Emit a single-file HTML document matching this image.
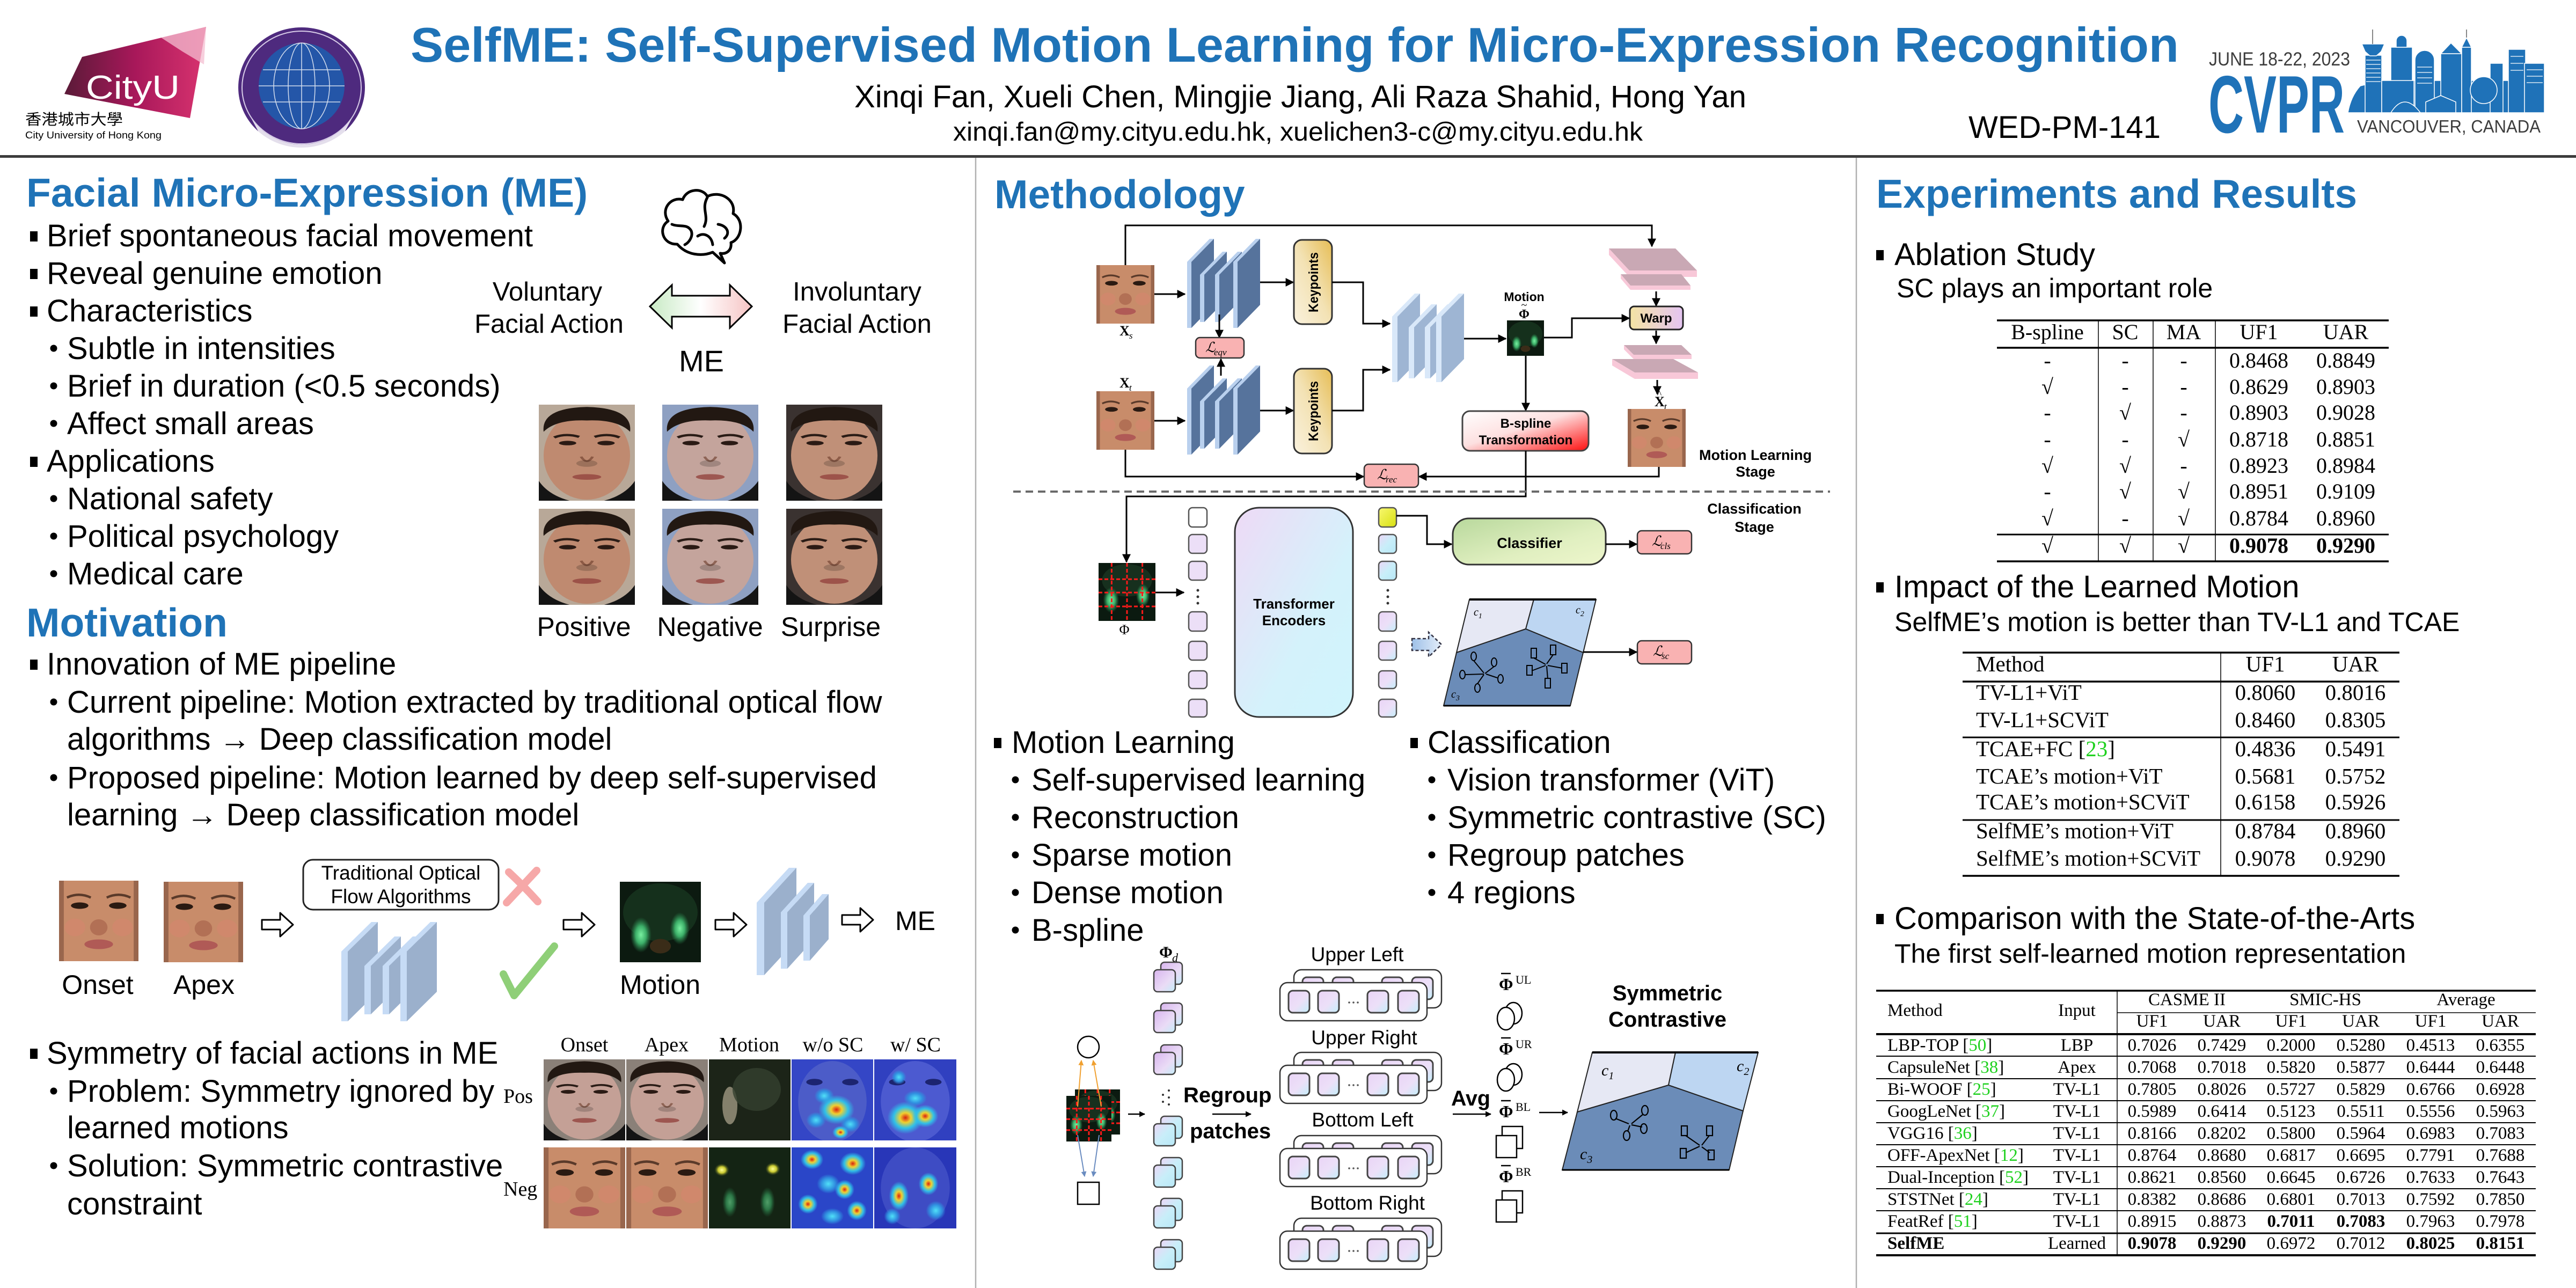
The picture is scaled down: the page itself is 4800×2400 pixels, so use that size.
<!DOCTYPE html>
<html><head><meta charset="utf-8">
<style>
html,body{margin:0;padding:0;background:#fff;}
svg{display:block}
</style></head><body>
<svg xmlns="http://www.w3.org/2000/svg" xmlns:xlink="http://www.w3.org/1999/xlink" width="4800" height="2400" viewBox="0 0 4800 2400">
<defs>
<style>
text{font-family:"Liberation Sans",Arial,sans-serif;fill:#000}
.h{font-size:75px;font-weight:bold;fill:#1f73b7}
.b{font-size:58px}
.s{font-size:50px}
.sf{font-family:"Liberation Serif","Times New Roman",serif}
.bd{font-weight:bold}
.it{font-style:italic}
.ln{stroke:#000;stroke-width:3;fill:none}
.ar{marker-end:url(#ah)}
.gr{fill:#1fd11f}
.bx{fill:#fff;stroke:#333;stroke-width:2.5}
</style>
<marker id="ah" viewBox="0 0 10 10" refX="9" refY="5" markerWidth="16" markerHeight="16" markerUnits="userSpaceOnUse" orient="auto"><path d="M0,0L10,5L0,10z" fill="#000"/></marker>
<marker id="ahs" viewBox="0 0 10 10" refX="9" refY="5" markerWidth="11" markerHeight="11" markerUnits="userSpaceOnUse" orient="auto"><path d="M0,0L10,5L0,10z" fill="#000"/></marker>
<marker id="aho" viewBox="0 0 10 10" refX="9" refY="5" markerWidth="10" markerHeight="10" markerUnits="userSpaceOnUse" orient="auto"><path d="M0,0L10,5L0,10z" fill="#f0a030"/></marker>
<marker id="ahb" viewBox="0 0 10 10" refX="9" refY="5" markerWidth="10" markerHeight="10" markerUnits="userSpaceOnUse" orient="auto"><path d="M0,0L10,5L0,10z" fill="#6a8cc0"/></marker>
<linearGradient id="cu" x1="0" y1="0" x2="1" y2="0"><stop offset="0" stop-color="#5a1a38"/><stop offset=".5" stop-color="#a8185a"/><stop offset="1" stop-color="#d8336f"/></linearGradient>
<linearGradient id="mearr" x1="0" y1="0" x2="1" y2="0"><stop offset="0" stop-color="#c8eac4"/><stop offset=".5" stop-color="#ffffff"/><stop offset="1" stop-color="#f6c4c4"/></linearGradient>
<linearGradient id="kp" x1="0" y1="1" x2="1" y2="0"><stop offset="0" stop-color="#faf2de"/><stop offset=".5" stop-color="#f3e2b4"/><stop offset="1" stop-color="#e6bd55"/></linearGradient>
<linearGradient id="bs" x1="0" y1="0" x2="1" y2="1"><stop offset="0" stop-color="#ffffff"/><stop offset=".45" stop-color="#fde0e0"/><stop offset="1" stop-color="#ff1010"/></linearGradient>
<linearGradient id="wp" x1="0" y1="0" x2="1" y2="0"><stop offset="0" stop-color="#f4e4a4"/><stop offset="1" stop-color="#e4c4f2"/></linearGradient>
<linearGradient id="tf" x1="0" y1="0" x2="1" y2="1"><stop offset="0" stop-color="#eedaf6"/><stop offset=".6" stop-color="#d4f2fb"/><stop offset="1" stop-color="#d0f4fc"/></linearGradient>
<linearGradient id="tk" x1="0" y1="0" x2="1" y2="1"><stop offset="0" stop-color="#ead4f6"/><stop offset=".55" stop-color="#ece0f8"/><stop offset="1" stop-color="#c4eefa"/></linearGradient>
<linearGradient id="tkp" x1="0" y1="0" x2="1" y2="1"><stop offset="0" stop-color="#d8b4ee"/><stop offset=".6" stop-color="#eadcf6"/><stop offset="1" stop-color="#c4ecf8"/></linearGradient>
<linearGradient id="tkc" x1="0" y1="0" x2="1" y2="1"><stop offset="0" stop-color="#ecd6f6"/><stop offset=".5" stop-color="#c8eef9"/><stop offset="1" stop-color="#b8e8f6"/></linearGradient>
<linearGradient id="yl" x1="0" y1="0" x2="1" y2="1"><stop offset="0" stop-color="#f8f870"/><stop offset="1" stop-color="#d8e010"/></linearGradient>
<linearGradient id="cl" x1="0" y1="0" x2="1" y2="1"><stop offset="0" stop-color="#b8d89c"/><stop offset=".6" stop-color="#e0efc0"/><stop offset="1" stop-color="#eef6cc"/></linearGradient>
<linearGradient id="da" x1="0" y1="0" x2="1" y2="0"><stop offset="0" stop-color="#9ec0e8"/><stop offset="1" stop-color="#e4eef9"/></linearGradient>
<radialGradient id="gg1"><stop offset="0" stop-color="#78f0a0"/><stop offset=".5" stop-color="#3cae68"/><stop offset="1" stop-color="#2a8a50" stop-opacity="0"/></radialGradient>
<radialGradient id="gy"><stop offset="0" stop-color="#ffff90"/><stop offset=".5" stop-color="#c8c830"/><stop offset="1" stop-color="#405020" stop-opacity="0"/></radialGradient>
<radialGradient id="hr"><stop offset="0" stop-color="#d82010"/><stop offset=".3" stop-color="#f0d030"/><stop offset=".65" stop-color="#30c0e8"/><stop offset="1" stop-color="#30c0e8" stop-opacity="0"/></radialGradient>
<radialGradient id="hc"><stop offset="0" stop-color="#50e0f8"/><stop offset=".6" stop-color="#3090e0"/><stop offset="1" stop-color="#3090e0" stop-opacity="0"/></radialGradient>

<symbol id="fp" viewBox="0 0 100 170" preserveAspectRatio="none">
<ellipse cx="50" cy="90" rx="45" ry="78" fill="currentColor"/>
<path d="M5,48 Q2,6 50,4 Q98,6 95,48 Q82,26 50,28 Q18,26 5,48z" fill="#221812"/>
<path d="M16,58 Q28,50 42,57" stroke="#2a1c16" stroke-width="4" fill="none"/>
<path d="M58,57 Q72,50 84,58" stroke="#2a1c16" stroke-width="4" fill="none"/>
<ellipse cx="30" cy="68" rx="9" ry="4" fill="#2a1a14"/>
<ellipse cx="70" cy="68" rx="9" ry="4" fill="#2a1a14"/>
<path d="M44,92 Q50,108 56,92" stroke="#6a3a28" stroke-width="3" fill="none" opacity=".6"/>
<ellipse cx="50" cy="104" rx="11" ry="6" fill="#000" opacity=".18"/>
<ellipse cx="50" cy="128" rx="15" ry="5" fill="#94443e" opacity=".8"/>
<path d="M0,135 Q10,160 32,170 H0z" fill="#141414"/>
<path d="M100,135 Q90,160 68,170 H100z" fill="#141414"/>
</symbol>
<symbol id="fc" viewBox="0 0 100 100" preserveAspectRatio="none">
<rect width="100" height="100" fill="#c88c6a"/>
<rect x="0" y="0" width="6" height="100" fill="#6a4030" opacity=".5"/>
<rect x="94" y="0" width="6" height="100" fill="#6a4030" opacity=".5"/>
<path d="M10,21 Q25,14 40,21" stroke="#5a3a2a" stroke-width="3" fill="none"/>
<path d="M60,21 Q75,14 90,21" stroke="#5a3a2a" stroke-width="3" fill="none"/>
<ellipse cx="26" cy="31" rx="11" ry="4" fill="#2a1a12"/>
<ellipse cx="74" cy="31" rx="11" ry="4" fill="#2a1a12"/>
<ellipse cx="50" cy="58" rx="11" ry="10" fill="#a05a44" opacity=".55"/>
<ellipse cx="20" cy="58" rx="13" ry="11" fill="#e08070" opacity=".35"/>
<ellipse cx="80" cy="58" rx="13" ry="11" fill="#e08070" opacity=".35"/>
<ellipse cx="50" cy="79" rx="18" ry="6" fill="#b05a56"/>
</symbol>
<symbol id="mo" viewBox="0 0 100 100" preserveAspectRatio="none">
<rect width="100" height="100" fill="#0c1a10"/>
<ellipse cx="50" cy="38" rx="46" ry="36" fill="#15301c"/>
<ellipse cx="26" cy="66" rx="13" ry="22" fill="url(#gg1)"/>
<ellipse cx="74" cy="58" rx="12" ry="20" fill="url(#gg1)"/>
<ellipse cx="50" cy="80" rx="13" ry="9" fill="#3a2c18"/>
</symbol>
<symbol id="phi" viewBox="0 0 100 100" preserveAspectRatio="none">
<rect width="100" height="100" fill="#0b1a10"/>
<ellipse cx="50" cy="30" rx="44" ry="28" fill="#17301e"/>
<ellipse cx="22" cy="64" rx="14" ry="22" fill="url(#gg1)"/>
<ellipse cx="78" cy="56" rx="12" ry="20" fill="url(#gg1)"/>
<g stroke="#ff1a1a" stroke-width="3" stroke-dasharray="7 4" vector-effect="non-scaling-stroke">
<line x1="23" y1="0" x2="23" y2="100" vector-effect="non-scaling-stroke"/>
<line x1="50" y1="0" x2="50" y2="100" vector-effect="non-scaling-stroke"/>
<line x1="77" y1="0" x2="77" y2="100" vector-effect="non-scaling-stroke"/>
<line x1="0" y1="28" x2="100" y2="28" vector-effect="non-scaling-stroke"/>
<line x1="0" y1="51" x2="100" y2="51" vector-effect="non-scaling-stroke"/>
<line x1="0" y1="75" x2="100" y2="75" vector-effect="non-scaling-stroke"/>
</g>
</symbol>
<symbol id="h1" viewBox="0 0 100 100" preserveAspectRatio="none">
<rect width="100" height="100" fill="#3446c6"/>
<ellipse cx="50" cy="52" rx="42" ry="50" fill="#4c5cc8"/>
<ellipse cx="28" cy="28" rx="10" ry="4" fill="#1c2470"/>
<ellipse cx="72" cy="28" rx="10" ry="4" fill="#1c2470"/>
<ellipse cx="40" cy="45" rx="12" ry="10" fill="url(#hc)"/>
<ellipse cx="55" cy="62" rx="22" ry="18" fill="url(#hr)"/>
<ellipse cx="30" cy="75" rx="12" ry="10" fill="url(#hc)"/>
<ellipse cx="72" cy="80" rx="12" ry="10" fill="url(#hc)"/>
<ellipse cx="60" cy="90" rx="10" ry="8" fill="url(#hr)"/>
</symbol>
<symbol id="h2" viewBox="0 0 100 100" preserveAspectRatio="none">
<rect width="100" height="100" fill="#3040c0"/>
<ellipse cx="50" cy="52" rx="42" ry="50" fill="#4c5ad0"/>
<ellipse cx="28" cy="28" rx="10" ry="4" fill="#1c2470"/>
<ellipse cx="72" cy="28" rx="10" ry="4" fill="#1c2470"/>
<ellipse cx="30" cy="22" rx="9" ry="9" fill="url(#hc)"/>
<ellipse cx="38" cy="72" rx="22" ry="20" fill="url(#hr)"/>
<ellipse cx="62" cy="70" rx="16" ry="14" fill="url(#hr)"/>
<ellipse cx="50" cy="48" rx="14" ry="10" fill="url(#hc)"/>
</symbol>
<symbol id="h3" viewBox="0 0 100 100" preserveAspectRatio="none">
<rect width="100" height="100" fill="#2a46c8"/>
<ellipse cx="25" cy="15" rx="14" ry="12" fill="url(#hr)"/>
<ellipse cx="75" cy="20" rx="16" ry="14" fill="url(#hr)"/>
<ellipse cx="45" cy="45" rx="14" ry="12" fill="url(#hc)"/>
<ellipse cx="65" cy="52" rx="12" ry="12" fill="url(#hr)"/>
<ellipse cx="20" cy="70" rx="12" ry="12" fill="url(#hr)"/>
<ellipse cx="80" cy="78" rx="12" ry="12" fill="url(#hr)"/>
<ellipse cx="50" cy="85" rx="14" ry="10" fill="url(#hc)"/>
</symbol>
<symbol id="h4" viewBox="0 0 100 100" preserveAspectRatio="none">
<rect width="100" height="100" fill="#2836b8"/>
<ellipse cx="50" cy="50" rx="42" ry="50" fill="#3e4cc4"/>
<ellipse cx="30" cy="60" rx="12" ry="18" fill="url(#hr)"/>
<ellipse cx="66" cy="45" rx="12" ry="14" fill="url(#hr)"/>
<ellipse cx="22" cy="85" rx="10" ry="10" fill="url(#hc)"/>
<ellipse cx="75" cy="78" rx="12" ry="12" fill="url(#hc)"/>
</symbol>
</defs>

<rect width="4800" height="2400" fill="#fff"/>

<!-- ============ HEADER ============ -->
<polygon points="153,106 384,50 354,220 120,175" fill="url(#cu)"/>
<polygon points="300,70 384,50 380,120 340,96" fill="#f4bfd2" opacity=".75"/>
<text x="160" y="184" font-size="62" fill="#fff" style="fill:#fff" textLength="175" lengthAdjust="spacingAndGlyphs">CityU</text>
<text x="47" y="232" font-size="28" style="font-family:'Liberation Sans','Noto Sans CJK TC',sans-serif" textLength="182" lengthAdjust="spacingAndGlyphs">香港城市大學</text>
<text x="47" y="258" font-size="18" textLength="254" lengthAdjust="spacingAndGlyphs">City University of Hong Kong</text>

<ellipse cx="562" cy="163" rx="118" ry="112" fill="#4e2a7e"/>
<ellipse cx="562" cy="163" rx="111" ry="105" fill="none" stroke="#d8cce8" stroke-width="2"/>
<path d="M468,220 A111,105 0 0 0 656,220 L640,250 A120,110 0 0 1 484,250z" fill="#fff" opacity=".85"/>
<ellipse cx="562" cy="160" rx="80" ry="80" fill="#2456a8"/>
<g stroke="#fff" stroke-width="1.5" fill="none" opacity=".8">
<ellipse cx="562" cy="160" rx="25" ry="80"/><ellipse cx="562" cy="160" rx="52" ry="80"/>
<line x1="562" y1="80" x2="562" y2="240"/>
<line x1="490" y1="130" x2="634" y2="130"/><line x1="482" y1="160" x2="642" y2="160"/><line x1="490" y1="190" x2="634" y2="190"/>
</g>

<text x="765" y="115" font-size="91" font-weight="bold" style="fill:#1f73b7" textLength="3295" lengthAdjust="spacingAndGlyphs">SelfME: Self-Supervised Motion Learning for Micro-Expression Recognition</text>
<text x="1592" y="200" font-size="58" textLength="1662" lengthAdjust="spacingAndGlyphs">Xinqi Fan, Xueli Chen, Mingjie Jiang, Ali Raza Shahid, Hong Yan</text>
<text x="1776" y="262" font-size="49" textLength="1285" lengthAdjust="spacingAndGlyphs">xinqi.fan@my.cityu.edu.hk, xuelichen3-c@my.cityu.edu.hk</text>
<text x="3668" y="257" font-size="58" textLength="358" lengthAdjust="spacingAndGlyphs">WED-PM-141</text>

<!-- CVPR logo -->
<text x="4116" y="122" font-size="35" style="fill:#3d3d3d" textLength="263" lengthAdjust="spacingAndGlyphs">JUNE 18-22, 2023</text>
<text x="4115" y="247" font-size="152" font-weight="bold" style="fill:#1f72b8" textLength="254" lengthAdjust="spacingAndGlyphs">CVPR</text>
<text x="4392" y="247" font-size="33" style="fill:#3d3d3d" textLength="342" lengthAdjust="spacingAndGlyphs">VANCOUVER, CANADA</text>
<g fill="#1f72b8" stroke="#fff" stroke-width="1.5">
<path d="M4375,210 Q4380,180 4398,160 L4440,150 L4740,150 L4741,210z"/>
<rect x="4407" y="103" width="31" height="107"/>
<polygon points="4401,82 4443,82 4437,96 4428,104 4416,104 4407,96"/>
<rect x="4455" y="88" width="40" height="122"/>
<path d="M4465,88 V76 A10,10 0 0 1 4485,76 V88z"/>
<rect x="4438" y="150" width="60" height="60"/>
<path d="M4500,210 V112 A18,18 0 0 1 4536,112 V210z"/>
<rect x="4548" y="100" width="39" height="110"/>
<polygon points="4548,100 4567,80 4587,100"/>
<rect x="4587" y="88" width="18" height="122"/>
<polygon points="4587,88 4596,70 4605,88"/>
<rect x="4640" y="118" width="24" height="92"/>
<rect x="4674" y="92" width="32" height="118"/>
<rect x="4704" y="118" width="37" height="92"/>
<circle cx="4628" cy="168" r="25"/>
<path d="M4455,210 Q4480,170 4510,210z"/>
<path d="M4520,210 V190 L4548,178 L4576,190 V210z"/>
</g>
<line x1="4421" y1="55" x2="4421" y2="82" stroke="#888" stroke-width="2"/>
<line x1="4596" y1="55" x2="4596" y2="70" stroke="#888" stroke-width="2"/>
<g stroke="#fff" stroke-width="1.2">
<line x1="4409" y1="112" x2="4436" y2="112"/><line x1="4409" y1="120" x2="4436" y2="120"/><line x1="4409" y1="128" x2="4436" y2="128"/><line x1="4409" y1="136" x2="4436" y2="136"/><line x1="4409" y1="144" x2="4436" y2="144"/><line x1="4409" y1="152" x2="4436" y2="152"/>
<line x1="4504" y1="125" x2="4532" y2="125"/><line x1="4504" y1="135" x2="4532" y2="135"/><line x1="4504" y1="145" x2="4532" y2="145"/><line x1="4504" y1="155" x2="4532" y2="155"/>
<line x1="4678" y1="105" x2="4702" y2="105"/><line x1="4678" y1="118" x2="4702" y2="118"/><line x1="4678" y1="131" x2="4702" y2="131"/>
<line x1="4708" y1="130" x2="4738" y2="130"/><line x1="4708" y1="142" x2="4738" y2="142"/><line x1="4708" y1="154" x2="4738" y2="154"/>
</g>

<rect x="0" y="289" width="4800" height="5" fill="#3c3c3c"/>
<line x1="1818" y1="294" x2="1818" y2="2400" stroke="#b0b0b0" stroke-width="2.5"/>
<line x1="3459" y1="294" x2="3459" y2="2400" stroke="#b0b0b0" stroke-width="2.5"/>

<!-- ============ LEFT COLUMN ============ -->
<text x="49" y="385" class="h">Facial Micro-Expression (ME)</text>
<g class="b">
<rect x="56" y="431" width="14" height="19"/><text x="87" y="459" class="b">Brief spontaneous facial movement</text>
<rect x="56" y="501" width="14" height="19"/><text x="87" y="529" class="b">Reveal genuine emotion</text>
<rect x="56" y="571" width="14" height="19"/><text x="87" y="599" class="b">Characteristics</text>
<circle cx="100" cy="649" r="6.5"/><text x="125" y="669" class="b">Subtle in intensities</text>
<circle cx="100" cy="719" r="6.5"/><text x="125" y="739" class="b">Brief in duration (&lt;0.5 seconds)</text>
<circle cx="100" cy="789" r="6.5"/><text x="125" y="809" class="b">Affect small areas</text>
<rect x="56" y="851" width="14" height="19"/><text x="87" y="879" class="b">Applications</text>
<circle cx="100" cy="929" r="6.5"/><text x="125" y="949" class="b">National safety</text>
<circle cx="100" cy="999" r="6.5"/><text x="125" y="1019" class="b">Political psychology</text>
<circle cx="100" cy="1069" r="6.5"/><text x="125" y="1089" class="b">Medical care</text>
</g>

<!-- brain -->
<g stroke="#000" stroke-width="5" fill="none" stroke-linecap="round" stroke-linejoin="round">
<path d="M1262,455 C1234,456 1226,424 1245,412 C1230,390 1250,366 1272,372 C1280,350 1310,350 1318,366 C1342,354 1372,372 1366,398 C1388,410 1382,446 1362,452 C1364,468 1352,474 1342,472 L1350,490 L1328,470 C1308,478 1280,476 1262,455 Z" fill="#fff"/>
<path d="M1318,368 C1306,390 1322,402 1312,422"/>
<path d="M1252,418 C1266,424 1280,416 1288,430 C1292,440 1284,452 1276,456"/>
<path d="M1338,418 C1354,420 1362,434 1350,444"/>
<path d="M1300,440 C1312,432 1326,440 1328,456"/>
</g>
<text x="1020" y="560" font-size="49" text-anchor="middle">Voluntary</text>
<text x="1023" y="620" font-size="49" text-anchor="middle">Facial Action</text>
<text x="1597" y="560" font-size="49" text-anchor="middle">Involuntary</text>
<text x="1597" y="620" font-size="49" text-anchor="middle">Facial Action</text>
<polygon points="1211,571 1252,531 1252,551 1360,551 1360,531 1401,571 1360,611 1360,590 1252,590 1252,611" fill="url(#mearr)" stroke="#000" stroke-width="3"/>
<text x="1307" y="692" font-size="56" text-anchor="middle">ME</text>

<!-- 6 faces -->
<rect x="1004" y="754" width="179" height="179" fill="#b8a898"/>
<use href="#fp" x="1004" y="754" width="179" height="179" style="color:#bf8a70"/>
<rect x="1234" y="754" width="179" height="179" fill="#8ea0c2"/>
<use href="#fp" x="1234" y="754" width="179" height="179" style="color:#c4a49c"/>
<rect x="1465" y="754" width="179" height="179" fill="#3a3230"/>
<use href="#fp" x="1465" y="754" width="179" height="179" style="color:#c09078"/>
<rect x="1004" y="948" width="179" height="179" fill="#b8a898"/>
<use href="#fp" x="1004" y="948" width="179" height="179" style="color:#bf8a70"/>
<rect x="1234" y="948" width="179" height="179" fill="#8ea0c2"/>
<use href="#fp" x="1234" y="948" width="179" height="179" style="color:#c4a49c"/>
<rect x="1465" y="948" width="179" height="179" fill="#3a3230"/>
<use href="#fp" x="1465" y="948" width="179" height="179" style="color:#c09078"/>
<text x="1088" y="1185" class="s" text-anchor="middle">Positive</text>
<text x="1323" y="1185" class="s" text-anchor="middle">Negative</text>
<text x="1548" y="1185" class="s" text-anchor="middle">Surprise</text>

<text x="49" y="1186" class="h">Motivation</text>
<rect x="56" y="1229" width="14" height="19"/><text x="87" y="1257" class="b">Innovation of ME pipeline</text>
<circle cx="100" cy="1308" r="6.5"/><text x="125" y="1328" class="b">Current pipeline: Motion extracted by traditional optical flow</text>
<text x="125" y="1397" class="b">algorithms → Deep classification model</text>
<circle cx="100" cy="1449" r="6.5"/><text x="125" y="1469" class="b">Proposed pipeline: Motion learned by deep self-supervised</text>
<text x="125" y="1538" class="b">learning → Deep classification model</text>

<!-- pipeline diagram -->
<use href="#fc" x="110" y="1641" width="148" height="150"/>
<use href="#fc" x="305" y="1643" width="148" height="150"/>
<g fill="#fff" stroke="#000" stroke-width="3" stroke-linejoin="round">
<polygon points="488,1714 522,1714 522,1701 546,1723 522,1745 522,1732 488,1732"/>
<polygon points="1050,1714 1084,1714 1084,1701 1108,1723 1084,1745 1084,1732 1050,1732"/>
<polygon points="1333,1714 1367,1714 1367,1701 1391,1723 1367,1745 1367,1732 1333,1732"/>
<polygon points="1569,1705 1603,1705 1603,1692 1627,1714 1603,1736 1603,1723 1569,1723"/>
</g>
<rect x="565" y="1602" width="364" height="93" rx="18" fill="#fff" stroke="#222" stroke-width="3"/>
<text x="747" y="1639" font-size="37" text-anchor="middle">Traditional Optical</text>
<text x="747" y="1683" font-size="37" text-anchor="middle">Flow Algorithms</text>
<g stroke="#f6a8a8" stroke-width="14" stroke-linecap="round" fill="none">
<path d="M948,1625 Q975,1650 1002,1680"/><path d="M1000,1622 Q972,1652 944,1682"/>
</g>
<path d="M938,1815 L958,1855 L1033,1763" stroke="#8fcf78" stroke-width="14" fill="none" stroke-linejoin="round" stroke-linecap="round"/>
<!-- stack 1 -->
<g>
<rect x="636" y="1773" width="12" height="130" fill="#c6dbf5"/><polygon points="636,1773 648,1773 704,1718 692,1718" fill="#c6dbf5"/><polygon points="648,1903 648,1773 704,1718 704,1848" fill="#9bb0cc"/>
<rect x="679" y="1800" width="12" height="90" fill="#c6dbf5"/><polygon points="679,1800 691,1800 747,1745 735,1745" fill="#c6dbf5"/><polygon points="691,1890 691,1800 747,1745 747,1835" fill="#9bb0cc"/>
<rect x="713" y="1800" width="12" height="90" fill="#c6dbf5"/><polygon points="713,1800 725,1800 781,1745 769,1745" fill="#c6dbf5"/><polygon points="725,1890 725,1800 781,1745 781,1835" fill="#9bb0cc"/>
<rect x="746" y="1773" width="12" height="130" fill="#c6dbf5"/><polygon points="746,1773 758,1773 814,1718 802,1718" fill="#c6dbf5"/><polygon points="758,1903 758,1773 814,1718 814,1848" fill="#9bb0cc"/>
</g>
<use href="#mo" x="1155" y="1643" width="151" height="150"/>
<!-- stack 2 -->
<g>
<rect x="1410" y="1682" width="14" height="135" fill="#c6dbf5"/><polygon points="1410,1682 1424,1682 1484,1617 1470,1617" fill="#c6dbf5"/><polygon points="1424,1817 1424,1682 1484,1617 1484,1752" fill="#9bb0cc"/>
<rect x="1455" y="1700" width="12" height="105" fill="#c6dbf5"/><polygon points="1455,1700 1467,1700 1517,1645 1505,1645" fill="#c6dbf5"/><polygon points="1467,1805 1467,1700 1517,1645 1517,1750" fill="#9bb0cc"/>
<rect x="1497" y="1706" width="12" height="84" fill="#c6dbf5"/><polygon points="1497,1706 1509,1706 1544,1666 1532,1666" fill="#c6dbf5"/><polygon points="1509,1790 1509,1706 1544,1666 1544,1750" fill="#9bb0cc"/>
</g>
<text x="1668" y="1733" font-size="50">ME</text>
<text x="182" y="1852" class="s" text-anchor="middle">Onset</text>
<text x="380" y="1852" class="s" text-anchor="middle">Apex</text>
<text x="1230" y="1852" class="s" text-anchor="middle">Motion</text>

<rect x="56" y="1954" width="14" height="19"/><text x="87" y="1982" class="b">Symmetry of facial actions in ME</text>
<circle cx="100" cy="2033" r="6.5"/><text x="125" y="2053" class="b">Problem: Symmetry ignored by</text>
<text x="125" y="2121" class="b">learned motions</text>
<circle cx="100" cy="2172" r="6.5"/><text x="125" y="2192" class="b">Solution: Symmetric contrastive</text>
<text x="125" y="2263" class="b">constraint</text>

<g class="sf" font-size="38" text-anchor="middle">
<text x="1089" y="1959" class="sf" font-size="38" text-anchor="middle">Onset</text>
<text x="1242" y="1959" class="sf" font-size="38" text-anchor="middle">Apex</text>
<text x="1396" y="1959" class="sf" font-size="38" text-anchor="middle">Motion</text>
<text x="1552" y="1959" class="sf" font-size="38" text-anchor="middle">w/o SC</text>
<text x="1706" y="1959" class="sf" font-size="38" text-anchor="middle">w/ SC</text>
</g>
<text x="938" y="2055" class="sf" font-size="38">Pos</text>
<text x="938" y="2228" class="sf" font-size="38">Neg</text>
<rect x="1013" y="1974" width="152" height="151" fill="#8a8078"/>
<use href="#fp" x="1013" y="1974" width="152" height="151" style="color:#c4a096"/>
<rect x="1167" y="1974" width="152" height="151" fill="#8a8078"/>
<use href="#fp" x="1167" y="1974" width="152" height="151" style="color:#c4a096"/>
<rect x="1321" y="1974" width="152" height="151" fill="#1c2418"/>
<ellipse cx="1360" cy="2060" rx="14" ry="35" fill="#b0a890" opacity=".7"/>
<ellipse cx="1410" cy="2030" rx="45" ry="40" fill="#354030" opacity=".8"/>
<use href="#h1" x="1475" y="1974" width="152" height="151"/>
<use href="#h2" x="1629" y="1974" width="153" height="151"/>
<use href="#fc" x="1013" y="2138" width="152" height="151"/>
<use href="#fc" x="1167" y="2138" width="152" height="151"/>
<rect x="1321" y="2138" width="152" height="151" fill="#142414"/>
<ellipse cx="1345" cy="2180" rx="14" ry="12" fill="url(#gy)"/>
<ellipse cx="1440" cy="2178" rx="14" ry="12" fill="url(#gy)"/>
<ellipse cx="1360" cy="2240" rx="14" ry="28" fill="url(#gg1)" opacity=".6"/>
<ellipse cx="1430" cy="2240" rx="14" ry="28" fill="url(#gg1)" opacity=".6"/>
<use href="#h3" x="1475" y="2138" width="152" height="151"/>
<use href="#h4" x="1629" y="2138" width="153" height="151"/>

<!-- ============ METHODOLOGY ============ -->
<text x="1853" y="388" class="h">Methodology</text>

<polyline points="2097,494 2097,420 3078,420 3078,459" class="ln ar"/>
<use href="#fc" x="2043" y="494" width="108" height="109"/>
<text x="2086" y="625" class="sf bd" font-size="26">X</text><text x="2104" y="631" class="sf it" font-size="17">s</text>
<text x="2086" y="722" class="sf bd" font-size="26">X</text><text x="2104" y="728" class="sf it" font-size="17">t</text>
<use href="#fc" x="2043" y="729" width="108" height="109"/>
<line x1="2151" y1="548" x2="2208" y2="548" class="ln ar"/>
<line x1="2151" y1="784" x2="2208" y2="784" class="ln ar"/>

<g id="enc">
<rect x="2212" y="488" width="8" height="123" fill="#b9d0ee"/><polygon points="2212,488 2220,488 2262,445 2254,445" fill="#b9d0ee"/><polygon points="2220,611 2220,488 2262,445 2262,568" fill="#56739c"/>
<rect x="2236" y="512" width="8" height="88" fill="#b9d0ee"/><polygon points="2236,512 2244,512 2286,469 2278,469" fill="#b9d0ee"/><polygon points="2244,600 2244,512 2286,469 2286,557" fill="#56739c"/>
<rect x="2264" y="512" width="8" height="88" fill="#b9d0ee"/><polygon points="2264,512 2272,512 2314,469 2306,469" fill="#b9d0ee"/><polygon points="2272,600 2272,512 2314,469 2314,557" fill="#56739c"/>
<rect x="2298" y="488" width="8" height="123" fill="#b9d0ee"/><polygon points="2298,488 2306,488 2348,445 2340,445" fill="#b9d0ee"/><polygon points="2306,611 2306,488 2348,445 2348,568" fill="#56739c"/>
</g>
<use href="#enc" y="236"/>

<line x1="2348" y1="526" x2="2410" y2="526" class="ln ar"/>
<line x1="2348" y1="765" x2="2410" y2="765" class="ln ar"/>
<rect x="2411" y="447" width="71" height="157" rx="15" fill="url(#kp)" stroke="#333" stroke-width="3"/>
<rect x="2411" y="687" width="71" height="158" rx="15" fill="url(#kp)" stroke="#333" stroke-width="3"/>
<text transform="translate(2456,582) rotate(-90)" font-size="25" font-weight="bold" textLength="112" lengthAdjust="spacingAndGlyphs">Keypoints</text>
<text transform="translate(2456,822) rotate(-90)" font-size="25" font-weight="bold" textLength="112" lengthAdjust="spacingAndGlyphs">Keypoints</text>
<polyline points="2482,526 2540,526 2540,603 2590,603" class="ln ar"/>
<polyline points="2482,765 2540,765 2540,689 2590,689" class="ln ar"/>
<line x1="2272" y1="586" x2="2272" y2="629" class="ln ar"/>
<line x1="2275" y1="700" x2="2275" y2="669" class="ln ar"/>
<rect x="2228" y="629" width="90" height="38" rx="8" fill="#f9b2b2" stroke="#333" stroke-width="2.5"/>
<text x="2246" y="656" class="sf it" font-size="26">ℒ</text><text x="2262" y="662" class="sf it" font-size="17">eqv</text>

<g>
<rect x="2594" y="590" width="10" height="122" fill="#d9e8f9"/><polygon points="2594,590 2604,590 2646,547 2636,547" fill="#d9e8f9"/><polygon points="2604,712 2604,590 2646,547 2646,669" fill="#9eb5d3"/>
<rect x="2625" y="610" width="10" height="95" fill="#d9e8f9"/><polygon points="2625,610 2635,610 2677,567 2667,567" fill="#d9e8f9"/><polygon points="2635,705 2635,610 2677,567 2677,662" fill="#9eb5d3"/>
<rect x="2655" y="610" width="10" height="95" fill="#d9e8f9"/><polygon points="2655,610 2665,610 2707,567 2697,567" fill="#d9e8f9"/><polygon points="2665,705 2665,610 2707,567 2707,662" fill="#9eb5d3"/>
<rect x="2676" y="590" width="10" height="122" fill="#d9e8f9"/><polygon points="2676,590 2686,590 2728,547 2718,547" fill="#d9e8f9"/><polygon points="2686,712 2686,590 2728,547 2728,669" fill="#9eb5d3"/>
</g>
<line x1="2728" y1="631" x2="2806" y2="631" class="ln ar"/>
<text x="2840" y="561" font-size="23" font-weight="bold" text-anchor="middle">Motion</text>
<text x="2840" y="575" font-size="20" text-anchor="middle" class="sf">~</text>
<text x="2840" y="593" class="sf bd" font-size="24" text-anchor="middle">Φ</text>
<use href="#mo" x="2808" y="597" width="69" height="66"/>
<polyline points="2877,629 2929,629 2929,593 3036,593" class="ln ar"/>
<line x1="2843" y1="663" x2="2843" y2="765" class="ln ar"/>
<rect x="2725" y="766" width="235" height="74" rx="14" fill="url(#bs)" stroke="#444" stroke-width="3"/>
<text x="2843" y="797" font-size="24" font-weight="bold" text-anchor="middle">B-spline</text>
<text x="2843" y="828" font-size="24" font-weight="bold" text-anchor="middle">Transformation</text>
<polyline points="2843,840 2843,925 2099,925 2099,1047" class="ln ar"/>

<!-- warp stacks -->
<g>
<polygon points="2998,463 3122,463 3162,504 3036,504" fill="#c9a8b4"/>
<polygon points="2998,463 3036,504 3036,516 2998,475" fill="#f8c8d8"/>
<rect x="3036" y="504" width="126" height="12" fill="#f8c8d8"/>
<polygon points="3020,511 3133,511 3150,532 3038,532" fill="#c9a8b4"/>
<polygon points="3020,511 3038,532 3038,540 3020,519" fill="#f8c8d8"/>
<rect x="3038" y="532" width="112" height="8" fill="#f8c8d8"/>
<polygon points="3026,643 3133,643 3152,661 3044,661" fill="#c9a8b4"/>
<polygon points="3026,643 3044,661 3044,669 3026,651" fill="#f8c8d8"/>
<rect x="3044" y="661" width="108" height="8" fill="#f8c8d8"/>
<polygon points="3004,669 3118,669 3164,694 3046,694" fill="#c9a8b4"/>
<polygon points="3004,669 3046,694 3046,706 3004,681" fill="#f8c8d8"/>
<rect x="3046" y="694" width="118" height="12" fill="#f8c8d8"/>
</g>
<line x1="3086" y1="543" x2="3086" y2="570" class="ln ar"/>
<rect x="3037" y="571" width="99" height="43" rx="8" fill="url(#wp)" stroke="#222" stroke-width="3"/>
<text x="3086" y="601" font-size="24" font-weight="bold" text-anchor="middle">Warp</text>
<line x1="3086" y1="616" x2="3086" y2="640" class="ln ar"/>
<line x1="3088" y1="708" x2="3088" y2="734" class="ln ar"/>
<text x="3083" y="757" class="sf bd" font-size="26">X</text><text x="3101" y="763" class="sf it" font-size="17">t</text>
<text x="3092" y="740" class="sf" font-size="18" text-anchor="middle">^</text>
<use href="#fc" x="3033" y="762" width="108" height="108"/>
<text x="3271" y="857" font-size="27" font-weight="bold" text-anchor="middle">Motion Learning</text>
<text x="3271" y="888" font-size="27" font-weight="bold" text-anchor="middle">Stage</text>
<polyline points="2097,838 2097,888 2541,888" class="ln ar"/>
<polyline points="3091,870 3091,888 2644,888" class="ln ar"/>
<rect x="2542" y="865" width="101" height="43" rx="8" fill="#f9b2b2" stroke="#333" stroke-width="2.5"/>
<text x="2566" y="893" class="sf it" font-size="26">ℒ</text><text x="2582" y="899" class="sf it" font-size="17">rec</text>
<line x1="1888" y1="916" x2="3410" y2="916" stroke="#6a6a6a" stroke-width="4" stroke-dasharray="14 9"/>

<!-- classification -->
<use href="#phi" x="2047" y="1049" width="106" height="108"/>
<text x="2095" y="1182" class="sf" font-size="26" text-anchor="middle">Φ</text>
<line x1="2153" y1="1104" x2="2206" y2="1104" class="ln ar"/>
<g stroke="#555" stroke-width="2.5">
<rect x="2215" y="946" width="34" height="36" rx="7" fill="#fff"/>
<rect x="2215" y="996" width="34" height="35" rx="7" fill="#ecdff7"/>
<rect x="2215" y="1046" width="34" height="35" rx="7" fill="#ecdff7"/>
<rect x="2215" y="1140" width="34" height="36" rx="7" fill="#ecdff7"/>
<rect x="2215" y="1195" width="34" height="35" rx="7" fill="#ecdff7"/>
<rect x="2215" y="1250" width="34" height="33" rx="7" fill="#ecdff7"/>
<rect x="2215" y="1303" width="34" height="33" rx="7" fill="#ecdff7"/>
<rect x="2569" y="946" width="33" height="36" rx="7" fill="url(#yl)"/>
<rect x="2569" y="996" width="33" height="35" rx="7" fill="url(#tkc)"/>
<rect x="2569" y="1046" width="33" height="35" rx="7" fill="url(#tkc)"/>
<rect x="2569" y="1140" width="33" height="36" rx="7" fill="url(#tk)"/>
<rect x="2569" y="1195" width="33" height="35" rx="7" fill="url(#tk)"/>
<rect x="2569" y="1250" width="33" height="33" rx="7" fill="url(#tk)"/>
<rect x="2569" y="1303" width="33" height="33" rx="7" fill="url(#tk)"/>
</g>
<g fill="#333"><circle cx="2232" cy="1100" r="2.5"/><circle cx="2232" cy="1112" r="2.5"/><circle cx="2232" cy="1124" r="2.5"/>
<circle cx="2586" cy="1100" r="2.5"/><circle cx="2586" cy="1112" r="2.5"/><circle cx="2586" cy="1124" r="2.5"/></g>
<rect x="2301" y="946" width="220" height="390" rx="45" fill="url(#tf)" stroke="#333" stroke-width="3"/>
<text x="2411" y="1134" font-size="26" font-weight="bold" text-anchor="middle">Transformer</text>
<text x="2411" y="1165" font-size="26" font-weight="bold" text-anchor="middle">Encoders</text>
<polyline points="2602,961 2659,961 2659,1014 2705,1014" class="ln ar"/>
<rect x="2707" y="966" width="285" height="86" rx="30" fill="url(#cl)" stroke="#333" stroke-width="3"/>
<text x="2850" y="1021" font-size="27" font-weight="bold" text-anchor="middle">Classifier</text>
<line x1="2992" y1="1014" x2="3050" y2="1014" class="ln ar"/>
<rect x="3051" y="989" width="101" height="43" rx="8" fill="#f9b2b2" stroke="#333" stroke-width="2.5"/>
<text x="3078" y="1017" class="sf it" font-size="26">ℒ</text><text x="3094" y="1023" class="sf it" font-size="17">cls</text>
<text x="3269" y="957" font-size="27" font-weight="bold" text-anchor="middle">Classification</text>
<text x="3269" y="991" font-size="27" font-weight="bold" text-anchor="middle">Stage</text>
<polygon points="2631,1190 2662,1190 2662,1178 2686,1201 2662,1224 2662,1212 2631,1212" fill="url(#da)" stroke="#334" stroke-width="2.5" stroke-dasharray="6 4"/>
<polygon points="2738,1117 2858,1117 2843,1172 2714,1216" fill="#e6e8f4" stroke="#222" stroke-width="2"/>
<polygon points="2858,1117 2974,1117 2950,1216 2843,1172" fill="#bdd6f2" stroke="#222" stroke-width="2"/>
<polygon points="2714,1216 2843,1172 2950,1216 2926,1315 2690,1315" fill="#6b8cb8" stroke="#222" stroke-width="2"/>
<line x1="2738" y1="1117" x2="2974" y2="1117" stroke="#000" stroke-width="4"/>
<line x1="2690" y1="1315" x2="2926" y2="1315" stroke="#000" stroke-width="3"/>
<text x="2746" y="1147" class="sf it" font-size="20">c<tspan font-size="14" dy="5">1</tspan></text>
<text x="2936" y="1143" class="sf it" font-size="20">c<tspan font-size="14" dy="5">2</tspan></text>
<text x="2704" y="1300" class="sf it" font-size="20">c<tspan font-size="14" dy="5">3</tspan></text>
<g stroke="#000" stroke-width="2" fill="none">
<line x1="2746" y1="1231" x2="2765" y2="1254"/><line x1="2784" y1="1242" x2="2767" y2="1255"/><line x1="2731" y1="1257" x2="2765" y2="1256"/><line x1="2790" y1="1263" x2="2769" y2="1256"/><line x1="2753" y1="1274" x2="2765" y2="1257"/>
<ellipse cx="2746" cy="1223" rx="5" ry="8"/><ellipse cx="2784" cy="1234" rx="5" ry="8"/><ellipse cx="2725" cy="1257" rx="5" ry="8"/><ellipse cx="2796" cy="1265" rx="5" ry="8"/><ellipse cx="2753" cy="1282" rx="5" ry="8"/>
<line x1="2858" y1="1226" x2="2880" y2="1238"/><line x1="2894" y1="1220" x2="2882" y2="1237"/><line x1="2854" y1="1250" x2="2880" y2="1240"/><line x1="2911" y1="1245" x2="2884" y2="1240"/><line x1="2884" y1="1265" x2="2882" y2="1241"/>
<rect x="2853" y="1208" width="10" height="18"/><rect x="2889" y="1202" width="10" height="18"/><rect x="2845" y="1240" width="10" height="18"/><rect x="2910" y="1236" width="10" height="18"/><rect x="2879" y="1264" width="10" height="18"/>
</g>
<line x1="2950" y1="1215" x2="3050" y2="1215" class="ln ar"/>
<rect x="3051" y="1194" width="101" height="43" rx="8" fill="#f9b2b2" stroke="#333" stroke-width="2.5"/>
<text x="3080" y="1222" class="sf it" font-size="26">ℒ</text><text x="3096" y="1228" class="sf it" font-size="17">sc</text>

<!-- methodology bullets -->
<rect x="1852" y="1375" width="14" height="19"/><text x="1885" y="1403" class="b">Motion Learning</text>
<circle cx="1892" cy="1453" r="6.5"/><text x="1922" y="1473" class="b">Self-supervised learning</text>
<circle cx="1892" cy="1523" r="6.5"/><text x="1922" y="1543" class="b">Reconstruction</text>
<circle cx="1892" cy="1593" r="6.5"/><text x="1922" y="1613" class="b">Sparse motion</text>
<circle cx="1892" cy="1663" r="6.5"/><text x="1922" y="1683" class="b">Dense motion</text>
<circle cx="1892" cy="1733" r="6.5"/><text x="1922" y="1753" class="b">B-spline</text>
<rect x="2628" y="1375" width="14" height="19"/><text x="2660" y="1403" class="b">Classification</text>
<circle cx="2668" cy="1453" r="6.5"/><text x="2697" y="1473" class="b">Vision transformer (ViT)</text>
<circle cx="2668" cy="1523" r="6.5"/><text x="2697" y="1543" class="b">Symmetric contrastive (SC)</text>
<circle cx="2668" cy="1593" r="6.5"/><text x="2697" y="1613" class="b">Regroup patches</text>
<circle cx="2668" cy="1663" r="6.5"/><text x="2697" y="1683" class="b">4 regions</text>

<!-- regroup diagram -->
<text x="2160" y="1784" class="sf bd" font-size="30">Φ</text><text x="2184" y="1792" class="sf it" font-size="22">d</text>
<g stroke="#444" stroke-width="2.5">
<rect x="2163" y="1793" width="40" height="41" rx="7" fill="url(#tkp)"/><rect x="2150" y="1807" width="40" height="41" rx="7" fill="url(#tkp)"/>
<rect x="2163" y="1869" width="40" height="41" rx="7" fill="url(#tkp)"/><rect x="2150" y="1883" width="40" height="41" rx="7" fill="url(#tkp)"/>
<rect x="2163" y="1947" width="40" height="41" rx="7" fill="url(#tkp)"/><rect x="2150" y="1961" width="40" height="41" rx="7" fill="url(#tkp)"/>
<rect x="2163" y="2080" width="40" height="41" rx="7" fill="url(#tkc)"/><rect x="2150" y="2094" width="40" height="41" rx="7" fill="url(#tkc)"/>
<rect x="2163" y="2157" width="40" height="41" rx="7" fill="url(#tkc)"/><rect x="2150" y="2171" width="40" height="41" rx="7" fill="url(#tkc)"/>
<rect x="2163" y="2233" width="40" height="41" rx="7" fill="url(#tkc)"/><rect x="2150" y="2247" width="40" height="41" rx="7" fill="url(#tkc)"/>
<rect x="2163" y="2310" width="40" height="41" rx="7" fill="url(#tkc)"/><rect x="2150" y="2324" width="40" height="41" rx="7" fill="url(#tkc)"/>
</g>
<g fill="#333"><circle cx="2178" cy="2032" r="2"/><circle cx="2178" cy="2045" r="2"/><circle cx="2178" cy="2058" r="2"/><circle cx="2167" cy="2040" r="2"/><circle cx="2167" cy="2053" r="2"/></g>
<use href="#phi" x="2003" y="2030" width="84" height="84"/>
<use href="#phi" x="1987" y="2042" width="84" height="85"/>
<circle cx="2028" cy="1951" r="20" fill="#fff" stroke="#000" stroke-width="2.5"/>
<rect x="2008" y="2203" width="40" height="41" fill="#fff" stroke="#000" stroke-width="2.5"/>
<line x1="2008" y1="2062" x2="2015" y2="1976" stroke="#f0a030" stroke-width="2" marker-end="url(#aho)"/>
<line x1="2052" y1="2062" x2="2037" y2="1976" stroke="#f0a030" stroke-width="2" marker-end="url(#aho)"/>
<line x1="2008" y1="2115" x2="2021" y2="2192" stroke="#6a8cc0" stroke-width="2" marker-end="url(#ahb)"/>
<line x1="2048" y1="2115" x2="2037" y2="2192" stroke="#6a8cc0" stroke-width="2" marker-end="url(#ahb)"/>
<line x1="2102" y1="2076" x2="2133" y2="2076" stroke="#000" stroke-width="2.5" marker-end="url(#ahs)"/>
<text x="2205" y="2054" font-size="40" font-weight="bold">Regroup</text>
<text x="2217" y="2121" font-size="40" font-weight="bold">patches</text>
<line x1="2259" y1="2076" x2="2331" y2="2076" stroke="#000" stroke-width="2.5" marker-end="url(#ahs)"/>

<g id="grp">
<rect x="2411" y="1807" width="275" height="71" rx="14" class="bx"/>
<g stroke="#444" stroke-width="3" fill="url(#tk)">
<rect x="2427" y="1821" width="39" height="41" rx="8"/><rect x="2483" y="1821" width="39" height="41" rx="8"/><rect x="2575" y="1821" width="39" height="41" rx="8"/><rect x="2631" y="1821" width="39" height="41" rx="8"/>
</g>
<rect x="2385" y="1831" width="274" height="71" rx="14" class="bx"/>
<g stroke="#444" stroke-width="3" fill="url(#tk)">
<rect x="2401" y="1846" width="39" height="41" rx="8"/><rect x="2456" y="1846" width="39" height="41" rx="8"/><rect x="2548" y="1846" width="39" height="41" rx="8"/><rect x="2605" y="1846" width="39" height="41" rx="8"/>
</g>
<g fill="#555"><circle cx="2514" cy="1868" r="1.8"/><circle cx="2522" cy="1868" r="1.8"/><circle cx="2530" cy="1868" r="1.8"/></g>
</g>
<use href="#grp" y="154"/>
<use href="#grp" y="309"/>
<use href="#grp" y="463"/>
<text x="2529" y="1791" font-size="37" text-anchor="middle">Upper Left</text>
<text x="2542" y="1946" font-size="37" text-anchor="middle">Upper Right</text>
<text x="2539" y="2099" font-size="37" text-anchor="middle">Bottom Left</text>
<text x="2548" y="2254" font-size="37" text-anchor="middle">Bottom Right</text>
<text x="2704" y="2060" font-size="40" font-weight="bold" textLength="73" lengthAdjust="spacingAndGlyphs">Avg</text>
<line x1="2707" y1="2076" x2="2778" y2="2076" stroke="#000" stroke-width="2.5" marker-end="url(#ahs)"/>

<g>
<text x="2793" y="1845" class="sf bd" font-size="32">Φ</text><line x1="2797" y1="1814" x2="2815" y2="1814" stroke="#000" stroke-width="2.5"/><text x="2824" y="1833" class="sf" font-size="22">UL</text>
<text x="2793" y="1965" class="sf bd" font-size="32">Φ</text><line x1="2797" y1="1934" x2="2815" y2="1934" stroke="#000" stroke-width="2.5"/><text x="2824" y="1953" class="sf" font-size="22">UR</text>
<text x="2793" y="2082" class="sf bd" font-size="32">Φ</text><line x1="2797" y1="2051" x2="2815" y2="2051" stroke="#000" stroke-width="2.5"/><text x="2824" y="2070" class="sf" font-size="22">BL</text>
<text x="2793" y="2203" class="sf bd" font-size="32">Φ</text><line x1="2797" y1="2172" x2="2815" y2="2172" stroke="#000" stroke-width="2.5"/><text x="2824" y="2191" class="sf" font-size="22">BR</text>
</g>
<g fill="#fff" stroke="#000" stroke-width="2.5">
<ellipse cx="2820" cy="1888" rx="16" ry="20"/><ellipse cx="2806" cy="1898" rx="16" ry="21"/>
<ellipse cx="2820" cy="2002" rx="16" ry="20"/><ellipse cx="2806" cy="2012" rx="16" ry="21"/>
<rect x="2799" y="2099" width="38" height="41"/><rect x="2788" y="2116" width="38" height="41"/>
<rect x="2799" y="2219" width="38" height="41"/><rect x="2788" y="2236" width="38" height="41"/>
</g>
<line x1="2868" y1="2073" x2="2921" y2="2073" stroke="#000" stroke-width="2.5" marker-end="url(#ahs)"/>
<text x="3107" y="1864" font-size="40" font-weight="bold" text-anchor="middle">Symmetric</text>
<text x="3107" y="1913" font-size="40" font-weight="bold" text-anchor="middle">Contrastive</text>
<polygon points="2967,1961 3122,1961 3109,2022 2939,2072" fill="#e6e8f4" stroke="#222" stroke-width="2"/>
<polygon points="3122,1961 3276,1961 3248,2070 3109,2022" fill="#bdd6f2" stroke="#222" stroke-width="2"/>
<polygon points="2939,2072 3109,2022 3248,2070 3222,2180 2911,2180" fill="#6b8cb8" stroke="#222" stroke-width="2"/>
<line x1="2967" y1="1961" x2="3276" y2="1961" stroke="#000" stroke-width="4"/>
<line x1="2911" y1="2180" x2="3222" y2="2180" stroke="#000" stroke-width="3"/>
<text x="2984" y="2004" class="sf it" font-size="30">c<tspan font-size="20" dy="7">1</tspan></text>
<text x="3236" y="1996" class="sf it" font-size="30">c<tspan font-size="20" dy="7">2</tspan></text>
<text x="2944" y="2160" class="sf it" font-size="30">c<tspan font-size="20" dy="7">3</tspan></text>
<g stroke="#000" stroke-width="2.2" fill="none">
<line x1="3010" y1="2084" x2="3035" y2="2094"/><line x1="3062" y1="2076" x2="3040" y2="2094"/><line x1="3060" y1="2100" x2="3040" y2="2096"/><line x1="3033" y1="2108" x2="3037" y2="2097"/>
<ellipse cx="3007" cy="2078" rx="6" ry="9"/><ellipse cx="3065" cy="2069" rx="6" ry="9"/><ellipse cx="3063" cy="2103" rx="6" ry="9"/><ellipse cx="3031" cy="2116" rx="6" ry="9"/>
<line x1="3141" y1="2116" x2="3167" y2="2134"/><line x1="3185" y1="2116" x2="3171" y2="2134"/><line x1="3141" y1="2148" x2="3167" y2="2136"/><line x1="3186" y1="2148" x2="3171" y2="2137"/>
<rect x="3133" y="2098" width="11" height="18"/><rect x="3180" y="2098" width="11" height="18"/><rect x="3131" y="2140" width="11" height="18"/><rect x="3183" y="2143" width="11" height="18"/>
</g>

<!-- ============ RIGHT COLUMN ============ -->
<text x="3496" y="387" class="h">Experiments and Results</text>
<rect x="3496" y="466" width="14" height="19"/><text x="3530" y="494" class="b">Ablation Study</text>
<text x="3534" y="554" class="s">SC plays an important role</text>

<g class="sf">
<line x1="3721" y1="597" x2="4451" y2="597" stroke="#000" stroke-width="3.5"/>
<line x1="3721" y1="648" x2="4451" y2="648" stroke="#000" stroke-width="3.5"/>
<line x1="3721" y1="996" x2="4451" y2="996" stroke="#000" stroke-width="3"/>
<line x1="3721" y1="1046" x2="4451" y2="1046" stroke="#000" stroke-width="3.5"/>
<line x1="3910" y1="597" x2="3910" y2="1046" stroke="#000" stroke-width="1.5"/>
<line x1="4012" y1="597" x2="4012" y2="1046" stroke="#000" stroke-width="1.5"/>
<line x1="4128" y1="597" x2="4128" y2="1046" stroke="#000" stroke-width="1.5"/>
</g>
<g font-size="40" text-anchor="middle" style="font-family:'Liberation Serif',serif">
<text x="3815" y="632" class="sf" font-size="40">B-spline</text><text x="3960" y="632" class="sf" font-size="40">SC</text><text x="4069" y="632" class="sf" font-size="40">MA</text><text x="4209" y="632" class="sf" font-size="40">UF1</text><text x="4371" y="632" class="sf" font-size="40">UAR</text>
<text x="3815" y="685" class="sf" font-size="40">-</text><text x="3960" y="685" class="sf" font-size="40">-</text><text x="4069" y="685" class="sf" font-size="40">-</text><text x="4209" y="685" class="sf" font-size="40">0.8468</text><text x="4371" y="685" class="sf" font-size="40">0.8849</text>
<text x="3815" y="734" class="sf" font-size="40">√</text><text x="3960" y="734" class="sf" font-size="40">-</text><text x="4069" y="734" class="sf" font-size="40">-</text><text x="4209" y="734" class="sf" font-size="40">0.8629</text><text x="4371" y="734" class="sf" font-size="40">0.8903</text>
<text x="3815" y="782" class="sf" font-size="40">-</text><text x="3960" y="782" class="sf" font-size="40">√</text><text x="4069" y="782" class="sf" font-size="40">-</text><text x="4209" y="782" class="sf" font-size="40">0.8903</text><text x="4371" y="782" class="sf" font-size="40">0.9028</text>
<text x="3815" y="832" class="sf" font-size="40">-</text><text x="3960" y="832" class="sf" font-size="40">-</text><text x="4069" y="832" class="sf" font-size="40">√</text><text x="4209" y="832" class="sf" font-size="40">0.8718</text><text x="4371" y="832" class="sf" font-size="40">0.8851</text>
<text x="3815" y="881" class="sf" font-size="40">√</text><text x="3960" y="881" class="sf" font-size="40">√</text><text x="4069" y="881" class="sf" font-size="40">-</text><text x="4209" y="881" class="sf" font-size="40">0.8923</text><text x="4371" y="881" class="sf" font-size="40">0.8984</text>
<text x="3815" y="929" class="sf" font-size="40">-</text><text x="3960" y="929" class="sf" font-size="40">√</text><text x="4069" y="929" class="sf" font-size="40">√</text><text x="4209" y="929" class="sf" font-size="40">0.8951</text><text x="4371" y="929" class="sf" font-size="40">0.9109</text>
<text x="3815" y="979" class="sf" font-size="40">√</text><text x="3960" y="979" class="sf" font-size="40">-</text><text x="4069" y="979" class="sf" font-size="40">√</text><text x="4209" y="979" class="sf" font-size="40">0.8784</text><text x="4371" y="979" class="sf" font-size="40">0.8960</text>
<text x="3815" y="1030" class="sf" font-size="40">√</text><text x="3960" y="1030" class="sf" font-size="40">√</text><text x="4069" y="1030" class="sf" font-size="40">√</text><text x="4209" y="1030" class="sf bd" font-size="40">0.9078</text><text x="4371" y="1030" class="sf bd" font-size="40">0.9290</text>
</g>

<rect x="3496" y="1085" width="14" height="19"/><text x="3530" y="1113" class="b">Impact of the Learned Motion</text>
<text x="3530" y="1176" class="s">SelfME’s motion is better than TV-L1 and TCAE</text>
<g>
<line x1="3657" y1="1216" x2="4471" y2="1216" stroke="#000" stroke-width="3.5"/>
<line x1="3657" y1="1270" x2="4471" y2="1270" stroke="#000" stroke-width="3.5"/>
<line x1="3657" y1="1374" x2="4471" y2="1374" stroke="#000" stroke-width="3"/>
<line x1="3657" y1="1528" x2="4471" y2="1528" stroke="#000" stroke-width="3"/>
<line x1="3657" y1="1632" x2="4471" y2="1632" stroke="#000" stroke-width="3.5"/>
<line x1="4138" y1="1216" x2="4138" y2="1632" stroke="#000" stroke-width="1.5"/>
</g>
<g>
<text x="3682" y="1251" class="sf" font-size="41">Method</text><text x="4221" y="1251" class="sf" font-size="41" text-anchor="middle">UF1</text><text x="4389" y="1251" class="sf" font-size="41" text-anchor="middle">UAR</text>
<text x="3682" y="1304" class="sf" font-size="41">TV-L1+ViT</text><text x="4221" y="1304" class="sf" font-size="41" text-anchor="middle">0.8060</text><text x="4389" y="1304" class="sf" font-size="41" text-anchor="middle">0.8016</text>
<text x="3682" y="1355" class="sf" font-size="41">TV-L1+SCViT</text><text x="4221" y="1355" class="sf" font-size="41" text-anchor="middle">0.8460</text><text x="4389" y="1355" class="sf" font-size="41" text-anchor="middle">0.8305</text>
<text x="3682" y="1409" class="sf" font-size="41">TCAE+FC [<tspan class="gr" style="fill:#1fd11f">23</tspan>]</text><text x="4221" y="1409" class="sf" font-size="41" text-anchor="middle">0.4836</text><text x="4389" y="1409" class="sf" font-size="41" text-anchor="middle">0.5491</text>
<text x="3682" y="1460" class="sf" font-size="41">TCAE’s motion+ViT</text><text x="4221" y="1460" class="sf" font-size="41" text-anchor="middle">0.5681</text><text x="4389" y="1460" class="sf" font-size="41" text-anchor="middle">0.5752</text>
<text x="3682" y="1508" class="sf" font-size="41">TCAE’s motion+SCViT</text><text x="4221" y="1508" class="sf" font-size="41" text-anchor="middle">0.6158</text><text x="4389" y="1508" class="sf" font-size="41" text-anchor="middle">0.5926</text>
<text x="3682" y="1562" class="sf" font-size="41">SelfME’s motion+ViT</text><text x="4221" y="1562" class="sf" font-size="41" text-anchor="middle">0.8784</text><text x="4389" y="1562" class="sf" font-size="41" text-anchor="middle">0.8960</text>
<text x="3682" y="1613" class="sf" font-size="41">SelfME’s motion+SCViT</text><text x="4221" y="1613" class="sf" font-size="41" text-anchor="middle">0.9078</text><text x="4389" y="1613" class="sf" font-size="41" text-anchor="middle">0.9290</text>
</g>

<rect x="3496" y="1703" width="14" height="19"/><text x="3530" y="1731" class="b">Comparison with the State-of-the-Arts</text>
<text x="3530" y="1794" class="s">The first self-learned motion representation</text>

<g>
<line x1="3496" y1="1846" x2="4725" y2="1846" stroke="#000" stroke-width="3.5"/>
<line x1="3945" y1="1887" x2="4725" y2="1887" stroke="#000" stroke-width="1.5"/>
<line x1="3496" y1="1927" x2="4725" y2="1927" stroke="#000" stroke-width="4"/>
<line x1="3496" y1="1968" x2="4725" y2="1968" stroke="#000" stroke-width="2"/>
<line x1="3496" y1="2010" x2="4725" y2="2010" stroke="#000" stroke-width="2"/>
<line x1="3496" y1="2051" x2="4725" y2="2051" stroke="#000" stroke-width="2"/>
<line x1="3496" y1="2092" x2="4725" y2="2092" stroke="#000" stroke-width="2"/>
<line x1="3496" y1="2133" x2="4725" y2="2133" stroke="#000" stroke-width="2"/>
<line x1="3496" y1="2174" x2="4725" y2="2174" stroke="#000" stroke-width="2"/>
<line x1="3496" y1="2215" x2="4725" y2="2215" stroke="#000" stroke-width="2"/>
<line x1="3496" y1="2256" x2="4725" y2="2256" stroke="#000" stroke-width="2"/>
<line x1="3496" y1="2298" x2="4725" y2="2298" stroke="#000" stroke-width="3"/>
<line x1="3496" y1="2339" x2="4725" y2="2339" stroke="#000" stroke-width="4"/>
<line x1="3945" y1="1846" x2="3945" y2="2339" stroke="#000" stroke-width="1.5"/>
</g>
<g font-size="33">
<text x="3517" y="1893" class="sf" font-size="33">Method</text>
<text x="3870" y="1893" class="sf" font-size="33" text-anchor="middle">Input</text>
<text x="4075" y="1873" class="sf" font-size="33" text-anchor="middle">CASME II</text>
<text x="4333" y="1873" class="sf" font-size="33" text-anchor="middle">SMIC-HS</text>
<text x="4595" y="1873" class="sf" font-size="33" text-anchor="middle">Average</text>
<text x="4010" y="1913" class="sf" font-size="33" text-anchor="middle">UF1</text><text x="4140" y="1913" class="sf" font-size="33" text-anchor="middle">UAR</text>
<text x="4269" y="1913" class="sf" font-size="33" text-anchor="middle">UF1</text><text x="4399" y="1913" class="sf" font-size="33" text-anchor="middle">UAR</text>
<text x="4529" y="1913" class="sf" font-size="33" text-anchor="middle">UF1</text><text x="4659" y="1913" class="sf" font-size="33" text-anchor="middle">UAR</text>
</g>
<g>
<text x="3517" y="1958" class="sf" font-size="33">LBP-TOP [<tspan style="fill:#1fd11f">50</tspan>]</text><text x="3870" y="1958" class="sf" font-size="33" text-anchor="middle">LBP</text>
<text x="4010" y="1958" class="sf" font-size="33" text-anchor="middle">0.7026</text><text x="4140" y="1958" class="sf" font-size="33" text-anchor="middle">0.7429</text><text x="4269" y="1958" class="sf" font-size="33" text-anchor="middle">0.2000</text><text x="4399" y="1958" class="sf" font-size="33" text-anchor="middle">0.5280</text><text x="4529" y="1958" class="sf" font-size="33" text-anchor="middle">0.4513</text><text x="4659" y="1958" class="sf" font-size="33" text-anchor="middle">0.6355</text>

<text x="3517" y="1999" class="sf" font-size="33">CapsuleNet [<tspan style="fill:#1fd11f">38</tspan>]</text><text x="3870" y="1999" class="sf" font-size="33" text-anchor="middle">Apex</text>
<text x="4010" y="1999" class="sf" font-size="33" text-anchor="middle">0.7068</text><text x="4140" y="1999" class="sf" font-size="33" text-anchor="middle">0.7018</text><text x="4269" y="1999" class="sf" font-size="33" text-anchor="middle">0.5820</text><text x="4399" y="1999" class="sf" font-size="33" text-anchor="middle">0.5877</text><text x="4529" y="1999" class="sf" font-size="33" text-anchor="middle">0.6444</text><text x="4659" y="1999" class="sf" font-size="33" text-anchor="middle">0.6448</text>

<text x="3517" y="2040" class="sf" font-size="33">Bi-WOOF [<tspan style="fill:#1fd11f">25</tspan>]</text><text x="3870" y="2040" class="sf" font-size="33" text-anchor="middle">TV-L1</text>
<text x="4010" y="2040" class="sf" font-size="33" text-anchor="middle">0.7805</text><text x="4140" y="2040" class="sf" font-size="33" text-anchor="middle">0.8026</text><text x="4269" y="2040" class="sf" font-size="33" text-anchor="middle">0.5727</text><text x="4399" y="2040" class="sf" font-size="33" text-anchor="middle">0.5829</text><text x="4529" y="2040" class="sf" font-size="33" text-anchor="middle">0.6766</text><text x="4659" y="2040" class="sf" font-size="33" text-anchor="middle">0.6928</text>

<text x="3517" y="2081" class="sf" font-size="33">GoogLeNet [<tspan style="fill:#1fd11f">37</tspan>]</text><text x="3870" y="2081" class="sf" font-size="33" text-anchor="middle">TV-L1</text>
<text x="4010" y="2081" class="sf" font-size="33" text-anchor="middle">0.5989</text><text x="4140" y="2081" class="sf" font-size="33" text-anchor="middle">0.6414</text><text x="4269" y="2081" class="sf" font-size="33" text-anchor="middle">0.5123</text><text x="4399" y="2081" class="sf" font-size="33" text-anchor="middle">0.5511</text><text x="4529" y="2081" class="sf" font-size="33" text-anchor="middle">0.5556</text><text x="4659" y="2081" class="sf" font-size="33" text-anchor="middle">0.5963</text>

<text x="3517" y="2122" class="sf" font-size="33">VGG16 [<tspan style="fill:#1fd11f">36</tspan>]</text><text x="3870" y="2122" class="sf" font-size="33" text-anchor="middle">TV-L1</text>
<text x="4010" y="2122" class="sf" font-size="33" text-anchor="middle">0.8166</text><text x="4140" y="2122" class="sf" font-size="33" text-anchor="middle">0.8202</text><text x="4269" y="2122" class="sf" font-size="33" text-anchor="middle">0.5800</text><text x="4399" y="2122" class="sf" font-size="33" text-anchor="middle">0.5964</text><text x="4529" y="2122" class="sf" font-size="33" text-anchor="middle">0.6983</text><text x="4659" y="2122" class="sf" font-size="33" text-anchor="middle">0.7083</text>

<text x="3517" y="2163" class="sf" font-size="33">OFF-ApexNet [<tspan style="fill:#1fd11f">12</tspan>]</text><text x="3870" y="2163" class="sf" font-size="33" text-anchor="middle">TV-L1</text>
<text x="4010" y="2163" class="sf" font-size="33" text-anchor="middle">0.8764</text><text x="4140" y="2163" class="sf" font-size="33" text-anchor="middle">0.8680</text><text x="4269" y="2163" class="sf" font-size="33" text-anchor="middle">0.6817</text><text x="4399" y="2163" class="sf" font-size="33" text-anchor="middle">0.6695</text><text x="4529" y="2163" class="sf" font-size="33" text-anchor="middle">0.7791</text><text x="4659" y="2163" class="sf" font-size="33" text-anchor="middle">0.7688</text>

<text x="3517" y="2204" class="sf" font-size="33">Dual-Inception [<tspan style="fill:#1fd11f">52</tspan>]</text><text x="3870" y="2204" class="sf" font-size="33" text-anchor="middle">TV-L1</text>
<text x="4010" y="2204" class="sf" font-size="33" text-anchor="middle">0.8621</text><text x="4140" y="2204" class="sf" font-size="33" text-anchor="middle">0.8560</text><text x="4269" y="2204" class="sf" font-size="33" text-anchor="middle">0.6645</text><text x="4399" y="2204" class="sf" font-size="33" text-anchor="middle">0.6726</text><text x="4529" y="2204" class="sf" font-size="33" text-anchor="middle">0.7633</text><text x="4659" y="2204" class="sf" font-size="33" text-anchor="middle">0.7643</text>

<text x="3517" y="2245" class="sf" font-size="33">STSTNet [<tspan style="fill:#1fd11f">24</tspan>]</text><text x="3870" y="2245" class="sf" font-size="33" text-anchor="middle">TV-L1</text>
<text x="4010" y="2245" class="sf" font-size="33" text-anchor="middle">0.8382</text><text x="4140" y="2245" class="sf" font-size="33" text-anchor="middle">0.8686</text><text x="4269" y="2245" class="sf" font-size="33" text-anchor="middle">0.6801</text><text x="4399" y="2245" class="sf" font-size="33" text-anchor="middle">0.7013</text><text x="4529" y="2245" class="sf" font-size="33" text-anchor="middle">0.7592</text><text x="4659" y="2245" class="sf" font-size="33" text-anchor="middle">0.7850</text>

<text x="3517" y="2286" class="sf" font-size="33">FeatRef [<tspan style="fill:#1fd11f">51</tspan>]</text><text x="3870" y="2286" class="sf" font-size="33" text-anchor="middle">TV-L1</text>
<text x="4010" y="2286" class="sf" font-size="33" text-anchor="middle">0.8915</text><text x="4140" y="2286" class="sf" font-size="33" text-anchor="middle">0.8873</text><text x="4269" y="2286" class="sf bd" font-size="33" text-anchor="middle">0.7011</text><text x="4399" y="2286" class="sf bd" font-size="33" text-anchor="middle">0.7083</text><text x="4529" y="2286" class="sf" font-size="33" text-anchor="middle">0.7963</text><text x="4659" y="2286" class="sf" font-size="33" text-anchor="middle">0.7978</text>

<text x="3517" y="2327" class="sf bd" font-size="33">SelfME</text><text x="3870" y="2327" class="sf" font-size="33" text-anchor="middle">Learned</text>
<text x="4010" y="2327" class="sf bd" font-size="33" text-anchor="middle">0.9078</text><text x="4140" y="2327" class="sf bd" font-size="33" text-anchor="middle">0.9290</text><text x="4269" y="2327" class="sf" font-size="33" text-anchor="middle">0.6972</text><text x="4399" y="2327" class="sf" font-size="33" text-anchor="middle">0.7012</text><text x="4529" y="2327" class="sf bd" font-size="33" text-anchor="middle">0.8025</text><text x="4659" y="2327" class="sf bd" font-size="33" text-anchor="middle">0.8151</text>
</g>
</svg>
</body></html>
